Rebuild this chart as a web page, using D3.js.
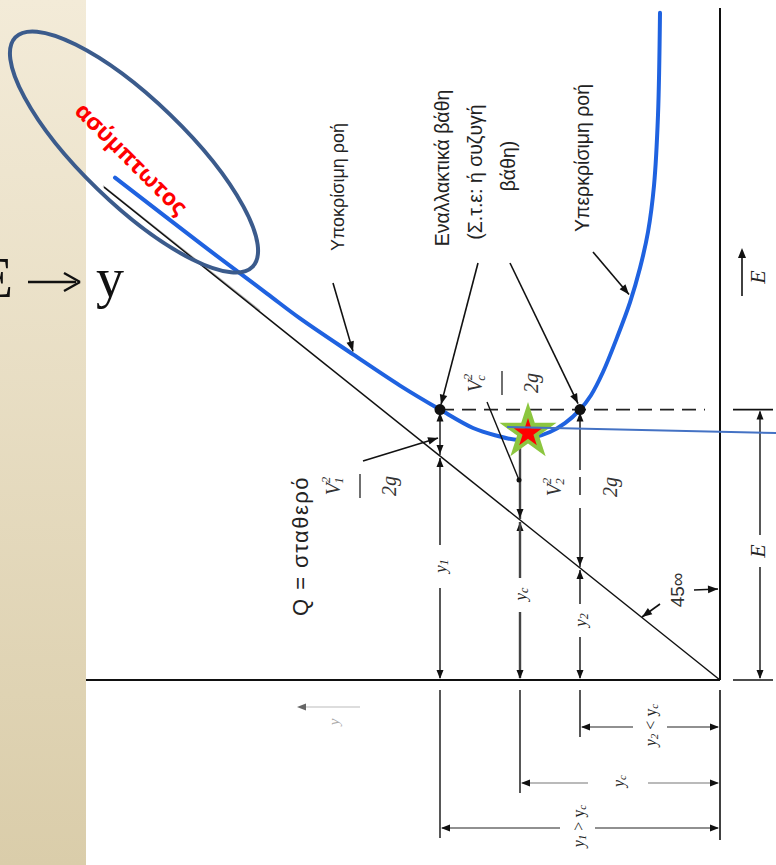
<!DOCTYPE html>
<html><head><meta charset="utf-8">
<script src="https://cdn.jsdelivr.net/npm/d3@7"></script>
<style>html,body{margin:0;padding:0;background:#fff;} svg{display:block;}</style>
</head><body>
<svg id="chart" width="776" height="865"></svg>
<script>
// Specific-energy diagram turned on its side: depth y runs to the left, energy E runs upwards.
const depthPts  = [3.025, 2.60, 2.265, 2.10, 1.835, 1.60, 1.40, 1.235, 1.125, 1.00, 0.85, 0.775, 0.70, 0.645, 0.585, 0.515, 0.45, 0.40, 0.36, 0.33, 0.31, 0.30];
const energyPts = [3.14, 2.73, 2.415, 2.26, 2.035, 1.84, 1.69, 1.575, 1.53, 1.50, 1.55, 1.605, 1.69, 1.78, 1.925, 2.14, 2.36, 2.575, 2.80, 3.09, 3.53, 4.17];
const depthKeys   = ["1", "c", "2"];          // y1 (subcritical), yc (critical), y2 (supercritical)
const depthValues = [1.40, 1.00, 0.70];
const energyLevel = 1.69;   // the constant E through both alternate depths
const minEnergy   = 1.50;   // E at critical depth
const diagonalEnd = 3.08;   // E = y line
const energyMax = 4.2;
const flowLabels = ["Υποκρίσιμη ροή", "Υπερκρίσιμη ροή"];
const alternateLines = ["Εναλλακτικά βάθη", "(Σ.τ.ε: ή συζυγή", "βάθη)"];
const dischargeLabel = "Q = σταθερό";
const angleLabel = "45∞";
const asymptoteLabel = "ασύμπτωτος";
const sideText = ["E", "→", "y"];

const svg = d3.select("#chart");
const W = 776, H = 865;
const x = d3.scaleLinear().domain([0, 3.2]).range([720, 80]);
const y = d3.scaleLinear().domain([0, energyMax]).range([680, 8]);
const X0 = x(0), Y0 = y(0);
const SANS = "'Liberation Sans', Arial, sans-serif";
const SERIF = "'Liberation Serif', 'Times New Roman', serif";

// beige side panel
const defs = svg.append("defs");
const grad = defs.append("linearGradient").attr("id", "panel").attr("x1", 0).attr("y1", 0).attr("x2", 0).attr("y2", 1);
grad.append("stop").attr("offset", "0%").attr("stop-color", "#f3ebd8");
grad.append("stop").attr("offset", "100%").attr("stop-color", "#dacdaa");
svg.append("rect").attr("x", 0).attr("y", 0).attr("width", 86).attr("height", H).attr("fill", "url(#panel)");

const g = svg.append("g");

function arrowHead(px, py, dir, len = 9, half = 3.5, color = "#111") {
  const pts = {
    up:    [[px, py], [px - half, py + len], [px + half, py + len]],
    down:  [[px, py], [px - half, py - len], [px + half, py - len]],
    left:  [[px, py], [px + len, py - half], [px + len, py + half]],
    right: [[px, py], [px - len, py - half], [px - len, py + half]]
  }[dir];
  g.append("path").attr("d", "M" + pts.map(p => p.join(",")).join("L") + "Z").attr("fill", color);
}
function seg(x1, y1, x2, y2, w = 1.4, color = "#111", dash = null) {
  const l = g.append("line").attr("x1", x1).attr("y1", y1).attr("x2", x2).attr("y2", y2)
    .attr("stroke", color).attr("stroke-width", w);
  if (dash) l.attr("stroke-dasharray", dash);
  return l;
}
function leader(x1, y1, x2, y2) {
  seg(x1, y1, x2, y2, 1.6);
  const a = Math.atan2(y2 - y1, x2 - x1), L = 10, h = 3.8;
  const bx = x2 - L * Math.cos(a), by = y2 - L * Math.sin(a);
  g.append("path").attr("fill", "#111")
    .attr("d", `M${x2},${y2}L${bx - h * Math.sin(a)},${by + h * Math.cos(a)}L${bx + h * Math.sin(a)},${by - h * Math.cos(a)}Z`);
}
function rtext(px, py, str, size, family = SANS, style = "normal", color = "#222") {
  return g.append("text").attr("transform", `translate(${px},${py}) rotate(-90)`)
    .attr("text-anchor", "middle").attr("dominant-baseline", "central")
    .attr("font-family", family).attr("font-size", size).attr("font-style", style)
    .attr("fill", color).text(str);
}
// italic y with subscript, turned like the rest of the figure
function depthText(px, py, sub, size = 17, color = "#222") {
  const t = g.append("text").attr("transform", `translate(${px},${py}) rotate(-90)`)
    .attr("text-anchor", "middle").attr("dominant-baseline", "central")
    .attr("font-family", SERIF).attr("font-style", "italic").attr("font-size", size).attr("fill", color);
  t.append("tspan").text("y");
  t.append("tspan").attr("font-size", size * 0.7).attr("dy", 4).text(sub);
  return t;
}
function compareText(px, py, a, op, b, size = 17) {
  const t = g.append("text").attr("transform", `translate(${px},${py}) rotate(-90)`)
    .attr("text-anchor", "middle").attr("dominant-baseline", "central")
    .attr("font-family", SERIF).attr("font-style", "italic").attr("font-size", size).attr("fill", "#222");
  t.append("tspan").text("y");
  t.append("tspan").attr("font-size", size * 0.7).attr("dy", 4).text(a);
  t.append("tspan").attr("dy", -4).attr("font-style", "normal").text(" " + op + " y");
  t.append("tspan").attr("font-size", size * 0.7).attr("dy", 4).text(b);
  return t;
}
// velocity head V²/2g, turned: numerator on the left, denominator on the right
function velocityHead(cx, cy, sub, bar = true) {
  const grp = g.append("g").attr("transform", `translate(${cx},${cy}) rotate(-90)`)
    .attr("font-family", SERIF).attr("font-style", "italic").attr("fill", "#333");
  const num = grp.append("text").attr("x", 0).attr("y", -27).attr("text-anchor", "middle")
    .attr("dominant-baseline", "central").attr("font-size", 20);
  num.append("tspan").text("V");
  num.append("tspan").attr("font-size", 13).attr("dy", -8).text("2");
  num.append("tspan").attr("font-size", 13).attr("dx", -7).attr("dy", 13).text(sub);
  if (bar) grp.append("line").attr("x1", -12).attr("x2", 12).attr("y1", 0).attr("y2", 0).attr("stroke", "#333").attr("stroke-width", 1.4);
  grp.append("text").attr("x", 0).attr("y", 29).attr("text-anchor", "middle")
    .attr("dominant-baseline", "central").attr("font-size", 20).text("2g");
}

// axes: E = 0 line and y = 0 line
seg(86, Y0, X0, Y0, 2.2);
seg(X0, y(energyMax), X0, Y0, 2);
seg(733, Y0, 773, Y0, 1.6);

// 45° line E = y (with its faint print shadow near the top)
seg(x(diagonalEnd) - 1, y(diagonalEnd) - 1.5, x(2.3), y(2.3) - 1.5, 1.2, "#b5b5b5");
seg(x(0), y(0), x(diagonalEnd), y(diagonalEnd), 1.5, "#111");

// constant-energy dashed line and its extension to the E dimension
seg(x(depthValues[0]), y(energyLevel), X0 - 15, y(energyLevel), 1.6, "#222", "14,8");
seg(733, y(energyLevel), 773, y(energyLevel), 1.6);

// E dimension on the right
const eX = 760;
seg(eX, y(energyLevel) + 2, eX, 535, 1.4);
seg(eX, 567, eX, Y0 - 2, 1.4);
arrowHead(eX, y(energyLevel) + 1, "up");
arrowHead(eX, Y0 - 1, "down");
rtext(eX - 3, 551, "E", 22, SERIF, "italic");

// E axis direction arrow
seg(742, 296, 742, 252, 1.6);
arrowHead(742, 248, "up", 10, 4);
rtext(757, 277, "E", 22, SERIF, "italic");

// y axis direction arrow (faint)
seg(300, 707, 360, 707, 1.2, "#bbb");
arrowHead(297, 707, "left", 9, 3.5, "#666");
rtext(334, 722, "y", 15, SERIF, "italic", "#aaa");

// vertical depth dimensions above the E = 0 line
const [y1, yc, y2] = depthValues;
// y1
{
  const px = x(y1), top = y(energyLevel), dg = y(y1);
  seg(px, top, px, dg - 1, 1.4);
  arrowHead(px, top + 3, "up");
  arrowHead(px, dg - 2, "down");
  arrowHead(px, dg + 2, "up");
  seg(px, dg + 2, px, 545, 1.4);
  seg(px, 588, px, Y0 - 2, 1.4);
  arrowHead(px, Y0 - 1, "down");
  depthText(px, 566, depthKeys[0]);
}
// yc
{
  const px = x(yc), top = y(minEnergy), dg = y(yc);
  seg(px, top + 6, px, dg - 1, 2.4, "#444");
  arrowHead(px, dg - 2, "down");
  arrowHead(px, dg + 2, "up");
  seg(px, dg + 2, px, 578, 2.4, "#444");
  seg(px, 612, px, Y0 - 2, 2.4, "#444");
  arrowHead(px, Y0 - 1, "down");
  depthText(px, 594, depthKeys[1]);
}
// y2
{
  const px = x(y2), top = y(energyLevel), dg = y(y2);
  seg(px, top, px, 470, 1.4);
  seg(px, 477, px, 495, 1.4);
  seg(px, 508, px, dg - 1, 1.4);
  arrowHead(px, top + 3, "up");
  arrowHead(px, dg - 2, "down");
  arrowHead(px, dg + 2, "up");
  seg(px, dg + 2, px, 604, 1.4);
  seg(px, 637, px, Y0 - 2, 1.4);
  arrowHead(px, Y0 - 1, "down");
  depthText(px, 620, depthKeys[2]);
}

// horizontal depth dimensions below the axis
const rows = [
  { d: y2, row: 727, lo: 633, hi: 667, a: "2", op: "<", b: "c" },
  { d: yc, row: 783, lo: 588, hi: 648, a: "c" },
  { d: y1, row: 828, lo: 560, hi: 595, a: "1", op: ">", b: "c" }
];
rows.forEach(r => {
  const px = x(r.d);
  seg(px, 690, px, r.row + 10, 1.4);
  seg(px + 2, r.row, r.lo, r.row, 1.2, r.op ? "#222" : "#777");
  seg(r.hi, r.row, X0 - 2, r.row, 1.2, r.op ? "#222" : "#777");
  arrowHead(px + 1, r.row, "left");
  arrowHead(X0 - 1, r.row, "right");
  if (r.op) compareText((r.lo + r.hi) / 2, r.row - 2, r.a, r.op, r.b, 16);
  else depthText((r.lo + r.hi) / 2, r.row - 2, r.a, 16);
});
seg(X0, 690, X0, 840, 1.6);

// specific-energy curve
const curvePts = depthPts.map((d, i) => [x(d), y(energyPts[i])]);
g.append("path").attr("d", d3.line().curve(d3.curveCatmullRom.alpha(0.5))(curvePts))
  .attr("fill", "none").attr("stroke", "#1f62e0").attr("stroke-width", 4).attr("stroke-linecap", "round");

// alternate-depth points
[y1, y2].forEach(d => g.append("circle").attr("cx", x(d)).attr("cy", y(energyLevel)).attr("r", 5.5).attr("fill", "#111"));

// velocity heads
velocityHead(360, 486, "1");
leader(363, 461, x(y1) - 2, 438);
velocityHead(502, 383, "c");
seg(487, 402, x(yc) - 1, 480, 1.4);
g.append("circle").attr("cx", x(yc) - 1).attr("cy", 480).attr("r", 2.5).attr("fill", "#111");
velocityHead(x(y2) + 1, 487, "2", false);

// 45° note
rtext(677, 590, angleLabel, 19, SANS, "normal", "#333");
leader(694, 590, X0 - 2, 589);
leader(660, 604, 642, 617);

// text annotations
rtext(338, 187, flowLabels[0], 18);
leader(333, 283, x(1.835), y(2.035) - 3);
rtext(582, 158, flowLabels[1], 19.5);
leader(593, 252, x(0.45) - 1, y(2.36) - 8);
alternateLines.forEach((s, i) => rtext(442 + i * 33, [168, 172, 166][i], s, 19.5));
leader(478, 263, x(y1) + 1, y(energyLevel) - 5);
leader(510, 263, x(y2) - 2, y(energyLevel) - 6);
rtext(300, 546, dischargeLabel, 22).attr("letter-spacing", 1.5);

// critical point marker and pointer line
const cx0 = x(yc) + 8, cy0 = y(minEnergy) - 8;
g.append("path").attr("transform", `translate(${cx0},${cy0})`)
  .attr("d", d3.symbol(d3.symbolStar).size(30 * 30 / 0.8908)()).attr("fill", "#8cc63f");
g.append("path").attr("transform", `translate(${cx0},${cy0 + 1})`)
  .attr("d", d3.symbol(d3.symbolStar).size(15 * 15 / 0.8908)()).attr("fill", "#ff0000");
seg(cx0 - 21, cy0 - 5, W, cy0 + 1, 2, "#4472c4");

// asymptote highlight
g.append("ellipse").attr("cx", 134).attr("cy", 152).attr("rx", 165).attr("ry", 52)
  .attr("transform", "rotate(44,134,152)")
  .attr("fill", "none").attr("stroke", "#3b5b8c").attr("stroke-width", 4);
g.append("text").attr("transform", "translate(132,158) rotate(45)")
  .attr("text-anchor", "middle").attr("dominant-baseline", "central")
  .attr("font-family", "'Open Sans', sans-serif").attr("font-weight", "bold").attr("font-size", 23)
  .attr("fill", "#ff0000").text(asymptoteLabel);

// side note E → y
const side = svg.append("g").attr("font-family", SERIF).attr("font-size", 56).attr("fill", "#111");
side.append("text").attr("x", 13).attr("y", 297).attr("text-anchor", "end").text(sideText[0]);
side.append("line").attr("x1", 28).attr("x2", 76).attr("y1", 282).attr("y2", 282).attr("stroke", "#111").attr("stroke-width", 2.4);
side.append("path").attr("d", "M80,282 L64,273 M80,282 L64,291").attr("stroke", "#111").attr("stroke-width", 2.4).attr("fill", "none");
side.append("text").attr("x", 96).attr("y", 297).text(sideText[2]);
</script>
</body></html>
